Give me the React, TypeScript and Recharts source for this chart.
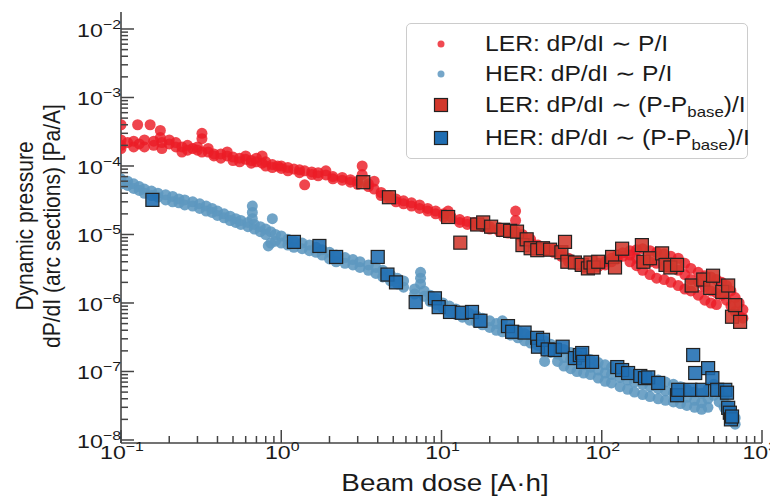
import { ScatterChart, Scatter, XAxis, YAxis, Legend, Customized } from "recharts";

// beam dose [A·h], dynamic pressure [Pa/A]
const LER_DOTS: [number, number][] = [
  [0.1, 2.0e-4], [0.1, 2.4e-4], [0.1, 4.0e-4], [0.1, 1.8e-4], [0.11, 2.2e-4],
  [0.12, 2.3e-4], [0.12, 1.9e-4], [0.127, 4.0e-4], [0.13, 2.1e-4], [0.14, 2.4e-4],
  [0.14, 1.9e-4], [0.152, 4.0e-4], [0.16, 2.3e-4], [0.16, 2.0e-4], [0.176, 3.3e-4],
  [0.176, 2.6e-4], [0.18, 2.2e-4], [0.18, 1.8e-4], [0.2, 2.1e-4], [0.2, 2.4e-4],
  [0.22, 1.9e-4], [0.22, 2.2e-4], [0.24, 1.9e-4], [0.24, 1.6e-4], [0.26, 2.0e-4],
  [0.26, 1.7e-4], [0.28, 1.8e-4], [0.3, 1.7e-4], [0.3, 1.9e-4], [0.32, 3.0e-4],
  [0.32, 2.5e-4], [0.32, 1.6e-4], [0.35, 1.6e-4], [0.35, 1.8e-4], [0.38, 1.5e-4],
  [0.38, 1.4e-4], [0.42, 1.5e-4], [0.42, 1.3e-4], [0.46, 1.4e-4], [0.46, 1.6e-4],
  [0.5, 1.35e-4], [0.5, 1.2e-4], [0.55, 1.3e-4], [0.55, 1.15e-4], [0.6, 1.25e-4],
  [0.6, 1.4e-4], [0.65, 1.2e-4], [0.65, 1.1e-4], [0.7, 1.15e-4], [0.7, 1.3e-4],
  [0.76, 1.4e-4], [0.76, 1.1e-4], [0.8, 1.15e-4], [0.8, 1.0e-4], [0.88, 1.05e-4],
  [0.88, 9.5e-5], [0.95, 1.0e-4], [1.0, 1.0e-4], [1.0, 9.2e-5], [1.1, 9.5e-5],
  [1.1, 8.5e-5], [1.2, 9.0e-5], [1.3, 8.8e-5], [1.3, 8.0e-5], [1.4, 5.3e-5],
  [1.4, 8.5e-5], [1.55, 8.2e-5], [1.55, 7.5e-5], [1.7, 8.0e-5], [1.7, 7.2e-5],
  [1.9, 7.4e-5], [1.9, 8.5e-5], [2.1, 7.0e-5], [2.1, 6.5e-5], [2.4, 6.8e-5],
  [2.4, 6.2e-5], [2.7, 6.3e-5], [2.7, 5.8e-5], [3.0, 6.0e-5], [3.0, 5.4e-5],
  [3.2, 1.0e-4], [3.2, 7.5e-5], [3.5, 5.5e-5], [3.5, 5.0e-5], [3.8, 4.6e-5],
  [3.8, 6.0e-5], [4.2, 4.1e-5], [4.2, 3.7e-5], [4.7, 3.7e-5], [4.7, 3.4e-5],
  [5.2, 3.3e-5], [5.2, 3.0e-5], [5.8, 3.1e-5], [5.8, 2.8e-5], [6.5, 2.9e-5],
  [6.5, 2.6e-5], [7.3, 2.7e-5], [7.3, 2.4e-5], [8.2, 2.4e-5], [8.2, 2.2e-5],
  [9.2, 2.2e-5], [9.2, 2.0e-5], [10.3, 2.0e-5], [10.3, 1.8e-5], [11.5, 1.8e-5],
  [11.0, 2.2e-5], [13, 1.65e-5], [13, 1.5e-5], [14.5, 1.55e-5], [14.5, 1.4e-5],
  [16, 1.5e-5], [16, 1.35e-5], [18, 1.4e-5], [18, 1.3e-5], [20, 1.3e-5],
  [20, 1.2e-5], [23, 1.25e-5], [23, 1.1e-5], [26, 1.15e-5], [26, 1.05e-5],
  [29, 2.2e-5], [29, 1.6e-5], [29, 1.1e-5], [32, 1.0e-5], [32, 9.0e-6],
  [36, 8.5e-6], [36, 7.5e-6], [40, 7.0e-6], [40, 6.3e-6], [45, 6.5e-6],
  [45, 5.8e-6], [50, 6.2e-6], [50, 5.5e-6], [56, 5.5e-6], [56, 4.8e-6],
  [62, 4.5e-6], [62, 4.0e-6], [70, 4.0e-6], [70, 3.6e-6], [78, 3.7e-6],
  [78, 3.3e-6], [86, 3.6e-6], [86, 3.2e-6], [95, 3.8e-6], [95, 3.4e-6],
  [105, 4.0e-6], [105, 3.6e-6], [115, 4.5e-6], [115, 4.0e-6], [125, 5.0e-6],
  [125, 4.4e-6], [135, 5.4e-6], [135, 4.8e-6], [150, 5.8e-6], [150, 5.0e-6],
  [150, 4.0e-6], [165, 6.0e-6], [165, 4.5e-6], [165, 3.5e-6], [180, 6.2e-6],
  [180, 4.2e-6], [180, 3.0e-6], [200, 5.8e-6], [200, 4.0e-6], [200, 2.6e-6],
  [220, 5.5e-6], [220, 3.8e-6], [220, 2.3e-6], [245, 5.2e-6], [245, 3.5e-6],
  [245, 2.2e-6], [270, 4.8e-6], [270, 3.3e-6], [270, 2.0e-6], [300, 4.5e-6],
  [300, 3.0e-6], [300, 1.8e-6], [330, 3.8e-6], [330, 2.6e-6], [330, 1.6e-6],
  [360, 3.2e-6], [360, 2.2e-6], [360, 1.5e-6], [400, 2.8e-6], [400, 2.0e-6],
  [400, 1.3e-6], [440, 2.5e-6], [440, 1.7e-6], [440, 1.1e-6], [480, 2.4e-6],
  [480, 1.5e-6], [480, 1.0e-6], [520, 2.2e-6], [520, 1.4e-6], [520, 9.5e-7],
  [560, 2.0e-6], [560, 1.3e-6], [600, 1.8e-6], [600, 1.1e-6], [640, 1.5e-6],
  [640, 9.0e-7], [680, 1.2e-6], [680, 7.5e-7], [720, 1.0e-6], [720, 6.5e-7],
  [760, 8.0e-7], [760, 6.0e-7],
];

const HER_DOTS: [number, number][] = [
  [0.1, 6.5e-5], [0.1, 5.5e-5], [0.11, 6.0e-5], [0.11, 5.2e-5], [0.12, 5.5e-5],
  [0.12, 4.7e-5], [0.13, 5.0e-5], [0.13, 4.4e-5], [0.14, 4.6e-5], [0.14, 4.0e-5],
  [0.155, 4.3e-5], [0.155, 3.7e-5], [0.17, 4.0e-5], [0.17, 3.5e-5], [0.19, 3.8e-5],
  [0.19, 3.2e-5], [0.21, 3.6e-5], [0.21, 3.0e-5], [0.23, 3.3e-5], [0.23, 2.9e-5],
  [0.25, 3.2e-5], [0.25, 2.7e-5], [0.28, 3.0e-5], [0.28, 2.6e-5], [0.31, 2.8e-5],
  [0.31, 2.4e-5], [0.34, 2.6e-5], [0.34, 2.2e-5], [0.37, 2.4e-5], [0.37, 2.1e-5],
  [0.4, 2.2e-5], [0.4, 1.9e-5], [0.44, 2.0e-5], [0.44, 1.75e-5], [0.48, 1.85e-5],
  [0.48, 1.6e-5], [0.52, 1.7e-5], [0.52, 1.5e-5], [0.56, 1.6e-5], [0.56, 1.4e-5],
  [0.62, 1.5e-5], [0.62, 1.3e-5], [0.66, 2.6e-5], [0.66, 2.1e-5], [0.66, 1.7e-5],
  [0.68, 1.4e-5], [0.68, 1.2e-5], [0.74, 1.3e-5], [0.74, 1.1e-5], [0.8, 1.2e-5],
  [0.8, 1.0e-5], [0.83, 6.8e-6], [0.86, 1.1e-5], [0.86, 7.5e-6], [0.88, 1.7e-5],
  [0.92, 1.0e-5], [0.92, 8.0e-6], [1.0, 9.5e-6], [1.0, 7.5e-6], [1.1, 8.5e-6],
  [1.1, 7.0e-6], [1.2, 8.0e-6], [1.2, 6.5e-6], [1.35, 7.5e-6], [1.35, 6.2e-6],
  [1.5, 7.0e-6], [1.5, 5.8e-6], [1.65, 6.5e-6], [1.65, 5.5e-6], [1.8, 6.0e-6],
  [1.8, 5.0e-6], [2.0, 5.5e-6], [2.0, 4.4e-6], [2.2, 5.0e-6], [2.2, 4.0e-6],
  [2.5, 4.6e-6], [2.5, 3.8e-6], [2.8, 4.3e-6], [2.8, 3.6e-6], [3.1, 4.0e-6],
  [3.1, 3.3e-6], [3.5, 3.6e-6], [3.5, 3.0e-6], [3.9, 3.3e-6], [3.9, 2.7e-6],
  [4.3, 3.0e-6], [4.3, 2.4e-6], [4.8, 2.6e-6], [4.8, 2.1e-6], [5.3, 2.3e-6],
  [5.3, 1.9e-6], [5.8, 2.1e-6], [5.8, 1.7e-6], [6.8, 1.6e-6], [6.8, 1.35e-6],
  [7.4, 2.8e-6], [7.4, 2.3e-6], [7.4, 1.9e-6], [7.8, 1.5e-6], [7.8, 1.25e-6],
  [8.5, 1.3e-6], [8.5, 1.05e-6], [9.3, 1.15e-6], [9.3, 9.5e-7], [10.2, 1.0e-6],
  [10.2, 8.5e-7], [11.2, 9.0e-7], [11.2, 7.5e-7], [12.3, 8.2e-7], [12.3, 6.8e-7],
  [13.5, 7.5e-7], [13.5, 6.2e-7], [15, 7.0e-7], [15, 5.6e-7], [16.5, 6.5e-7],
  [16.5, 5.2e-7], [18, 6.0e-7], [18, 4.8e-7], [20, 5.5e-7], [20, 4.4e-7],
  [22, 5.0e-7], [22, 4.0e-7], [24, 5.5e-7], [24, 4.6e-7], [24, 3.8e-7],
  [27, 4.2e-7], [27, 3.4e-7], [30, 3.9e-7], [30, 3.1e-7], [33, 3.6e-7],
  [33, 2.8e-7], [36, 3.3e-7], [36, 2.6e-7], [40, 3.0e-7], [40, 2.4e-7],
  [44, 2.8e-7], [44, 2.0e-7], [44, 1.4e-7], [48, 2.5e-7], [48, 1.9e-7],
  [53, 2.3e-7], [53, 1.8e-7], [53, 1.4e-7], [58, 2.1e-7], [58, 1.6e-7],
  [58, 1.2e-7], [64, 1.9e-7], [64, 1.5e-7], [64, 1.1e-7], [70, 1.75e-7],
  [70, 1.4e-7], [70, 1.0e-7], [77, 1.6e-7], [77, 1.25e-7], [77, 9.5e-8],
  [85, 1.5e-7], [85, 1.15e-7], [85, 9.0e-8], [95, 1.35e-7], [95, 1.05e-7],
  [95, 8.0e-8], [105, 1.25e-7], [105, 9.5e-8], [105, 7.2e-8], [115, 1.15e-7],
  [115, 9.0e-8], [115, 6.8e-8], [130, 1.05e-7], [130, 8.2e-8], [130, 6.0e-8],
  [145, 9.5e-8], [145, 7.5e-8], [145, 5.5e-8], [160, 9.0e-8], [160, 7.0e-8],
  [160, 5.0e-8], [180, 8.5e-8], [180, 6.5e-8], [180, 4.6e-8], [200, 8.0e-8],
  [200, 6.0e-8], [200, 4.3e-8], [225, 7.5e-8], [225, 5.6e-8], [225, 4.0e-8],
  [250, 7.0e-8], [250, 5.2e-8], [250, 3.8e-8], [280, 6.5e-8], [280, 4.8e-8],
  [280, 3.6e-8], [310, 6.0e-8], [310, 4.5e-8], [310, 3.4e-8], [340, 5.5e-8],
  [340, 4.2e-8], [340, 3.2e-8], [380, 5.0e-8], [380, 3.8e-8], [380, 3.0e-8],
  [420, 4.8e-8], [420, 3.5e-8], [420, 2.8e-8], [460, 5.5e-8], [460, 4.0e-8],
  [460, 3.0e-8], [500, 6.5e-8], [500, 4.5e-8], [540, 5.0e-8], [540, 3.6e-8],
  [580, 4.2e-8], [580, 3.0e-8], [620, 3.2e-8], [620, 2.4e-8], [650, 2.5e-8],
  [650, 1.9e-8], [680, 2.1e-8], [680, 1.7e-8],
];

const LER_SQUARES: [number, number][] = [
  [3.25, 5.8e-5], [4.7, 3.5e-5], [11.0, 1.8e-5], [13.1, 7.6e-6], [16.7, 1.4e-5],
  [18.2, 1.5e-5], [20.4, 1.3e-5], [24.3, 1.17e-5], [26.8, 1.13e-5], [29.6, 1.1e-5],
  [32, 7.0e-6], [34, 8.5e-6], [36, 6.3e-6], [39.6, 5.9e-6], [43, 6.3e-6],
  [47.6, 6.0e-6], [56, 5.5e-6], [59, 7.8e-6], [61, 4.0e-6], [68, 3.9e-6],
  [75, 3.6e-6], [82, 3.2e-6], [85, 3.9e-6], [89, 3.3e-6], [95, 4.0e-6],
  [116, 4.7e-6], [121, 3.3e-6], [134, 6.2e-6], [178, 7.0e-6], [182, 4.0e-6],
  [200, 4.5e-6], [238, 5.3e-6], [250, 3.6e-6], [268, 3.3e-6], [295, 3.6e-6],
  [364, 1.8e-6], [430, 2.2e-6], [475, 1.66e-6], [495, 2.5e-6], [565, 1.45e-6],
  [615, 1.8e-6], [650, 6.3e-7], [680, 9.3e-7], [730, 5.3e-7],
];

const HER_SQUARES: [number, number][] = [
  [0.157, 3.2e-5], [1.2, 7.8e-6], [1.73, 6.8e-6], [2.2, 4.7e-6], [4.0, 4.7e-6],
  [4.6, 2.6e-6], [5.2, 2.0e-6], [6.9, 1.03e-6], [9.1, 1.17e-6], [9.6, 8.7e-7],
  [11.3, 7.4e-7], [13.4, 7.2e-7], [15.5, 7.4e-7], [17.5, 5.5e-7], [26, 4.6e-7],
  [27.6, 3.8e-7], [33, 3.7e-7], [39.5, 3.1e-7], [40, 2.3e-7], [43, 2.9e-7],
  [46, 2.1e-7], [51, 2.06e-7], [57, 2.3e-7], [68, 1.57e-7], [73, 1.74e-7],
  [75.5, 1.86e-7], [76.5, 1.38e-7], [87, 1.38e-7], [125, 1.16e-7], [134, 1.05e-7],
  [146, 9.5e-8], [174, 8.6e-8], [186, 8.0e-8], [195, 8.2e-8], [225, 6.8e-8],
  [295, 4.5e-8], [300, 5.4e-8], [357, 5.4e-8], [372, 1.74e-7], [383, 9.5e-8],
  [423, 5.4e-8], [461, 1.12e-7], [490, 8.0e-8], [525, 5.4e-8], [590, 5.4e-8],
  [605, 4.9e-8], [615, 2.95e-8], [630, 2.5e-8], [640, 2.0e-8], [650, 2.2e-8],
];

const X_DECADES = [0.1, 1, 10, 100, 1000];
const Y_DECADES = [1e-8, 1e-7, 1e-6, 1e-5, 1e-4, 1e-3, 1e-2];
const MINOR_STEPS = [2, 3, 4, 5, 6, 7, 8, 9];

const X_DOMAIN = [0.1, 1000];
const Y_DOMAIN = [Math.pow(10, -8.044), Math.pow(10, -1.752)];

const LEGEND_LABELS = [
  "LER: dP/dI \u223C P/I",
  "HER: dP/dI \u223C P/I",
  "LER: dP/dI \u223C (P-P",
  "HER: dP/dI \u223C (P-P",
];

const FONT = "'Liberation Sans', Arial, Helvetica, sans-serif";
const AXIS = "#444";
const RED_DOT = "#ec1c26";
const BLUE_DOT = "#5d97bf";
const RED_SQ = "#d2382c";
const BLUE_SQ = "#1f6db2";
const STRETCH = 1.16;

const withMinor = (decades: number[], lo: number, hi: number) =>
  [...decades, ...decades.flatMap((d) => MINOR_STEPS.map((m) => d * m))].filter(
    (v) => v >= lo * 0.999 && v <= hi * 1.001
  );

const xTicks = withMinor(X_DECADES, X_DOMAIN[0], X_DOMAIN[1]);
const yTicks = withMinor([1e-9, ...Y_DECADES], Y_DOMAIN[0], Y_DOMAIN[1]);

const toPoints = (arr: [number, number][]) => arr.map(([x, y]) => ({ x, y }));

function PowerLabel({ x, y, exp, anchor }: { x: number; y: number; exp: number; anchor: string }) {
  const sup = exp < 0 ? "\u2212" + Math.abs(exp) : String(exp);
  return (
    <g transform={`translate(${x},${y}) scale(1.22,1)`}>
      <text textAnchor={anchor as any} fontSize={19} fontFamily={FONT} fill="#1a1a1a">
        10
        <tspan dy={-8} fontSize={13}>
          {sup}
        </tspan>
      </text>
    </g>
  );
}

const makeTick = (side: "left" | "right" | "top" | "bottom") => (props: any) => {
  const { x, y, payload } = props;
  const v = payload.value;
  const lg = Math.log10(v);
  const exp = Math.round(lg);
  const major = Math.abs(lg - exp) < 1e-6;
  const len = major ? 13 : 7;
  let line;
  if (side === "left") line = <line x1={x} y1={y} x2={x + len} y2={y} />;
  else if (side === "right") line = <line x1={x} y1={y} x2={x - len} y2={y} />;
  else if (side === "top") line = <line x1={x} y1={y} x2={x} y2={y + len} />;
  else line = <line x1={x} y1={y} x2={x} y2={y - len} />;
  // the last label would run past the right edge, so it is pinned to it
  const lastX = exp === 3;
  return (
    <g>
      <g stroke={AXIS} strokeWidth={1.5}>{line}</g>
      {major && side === "left" && <PowerLabel x={x} y={y + 8} exp={exp} anchor="end" />}
      {major && side === "bottom" && (
        <PowerLabel x={lastX ? 769 : x + 1} y={y + 16} exp={exp} anchor={lastX ? "end" : "middle"} />
      )}
    </g>
  );
};

const dotShape = (fill: string, opacity: number) => (p: any) => (
  <circle cx={p.cx} cy={p.cy} r={5.5} fill={fill} fillOpacity={opacity} />
);

const squareShape = (fill: string) => (p: any) => (
  <rect
    x={p.cx - 6.5}
    y={p.cy - 6.5}
    width={13}
    height={13}
    fill={fill}
    fillOpacity={0.88}
    stroke="#222"
    strokeWidth={1.2}
  />
);

function Titles() {
  return (
    <g fontFamily={FONT} fill="#1a1a1a">
      <g transform={`translate(437,483) scale(${STRETCH},1)`}>
        <text textAnchor="middle" fontSize={24}>Beam dose [A·h]</text>
      </g>
      <g transform={`translate(25,218) scale(${STRETCH},1) rotate(-90)`}>
        <text textAnchor="middle" fontSize={21}>Dynamic pressure</text>
      </g>
      <g transform={`translate(52,218) scale(${STRETCH},1) rotate(-90)`}>
        <text textAnchor="middle" fontSize={21}>dP/dI (arc sections) [Pa/A]</text>
      </g>
    </g>
  );
}

function LegendBox() {
  const rows = [20, 50, 81, 114];
  return (
    <div
      style={{
        position: "relative",
        width: 342,
        height: 136,
        boxSizing: "border-box",
        border: "1.5px solid #cccccc",
        borderRadius: 5,
        background: "rgba(255,255,255,0.85)",
        fontFamily: FONT,
        color: "#1a1a1a",
      }}
    >
      {LEGEND_LABELS.map((label, i) => (
        <div key={label} style={{ position: "absolute", left: 0, top: rows[i] - 15, height: 30, width: 340 }}>
          <svg width={60} height={30} style={{ position: "absolute", left: 0, top: 0 }}>
            {i === 0 && <circle cx={34} cy={15} r={3.5} fill={RED_DOT} fillOpacity={0.8} />}
            {i === 1 && <circle cx={34} cy={15} r={3.5} fill={BLUE_DOT} fillOpacity={0.85} />}
            {i === 2 && <rect x={27.5} y={8.5} width={13} height={13} fill={RED_SQ} stroke="#222" strokeWidth={1.2} />}
            {i === 3 && <rect x={27.5} y={8.5} width={13} height={13} fill={BLUE_SQ} stroke="#222" strokeWidth={1.2} />}
          </svg>
          <span
            style={{
              position: "absolute",
              left: 78,
              top: 2,
              fontSize: 22,
              lineHeight: "26px",
              whiteSpace: "nowrap",
              transform: "scaleX(1.12)",
              transformOrigin: "left center",
            }}
          >
            {label}
            {i >= 2 && (
              <>
                <span style={{ fontSize: 15, position: "relative", top: 5 }}>base</span>)/I
              </>
            )}
          </span>
        </div>
      ))}
    </div>
  );
}

export default function App() {
  return (
    <ScatterChart width={770} height={493} margin={{ top: 4, right: 16, bottom: 0, left: 0 }}>
      <XAxis
        dataKey="x"
        type="number"
        scale="log"
        domain={X_DOMAIN}
        allowDataOverflow
        ticks={xTicks}
        interval={0}
        height={58}
        tickSize={0}
        tickMargin={0}
        tickLine={false}
        tick={makeTick("bottom")}
        axisLine={{ stroke: AXIS, strokeWidth: 1.6 }}
      />
      <XAxis
        xAxisId="top"
        orientation="top"
        dataKey="x"
        type="number"
        scale="log"
        domain={X_DOMAIN}
        allowDataOverflow
        ticks={xTicks}
        interval={0}
        height={0}
        tickSize={0}
        tickMargin={0}
        tickLine={false}
        tick={makeTick("top")}
        axisLine={{ stroke: AXIS, strokeWidth: 1.6 }}
      />
      <YAxis
        dataKey="y"
        type="number"
        scale="log"
        domain={Y_DOMAIN}
        allowDataOverflow
        ticks={yTicks}
        interval={0}
        width={113}
        tickSize={0}
        tickMargin={0}
        tickLine={false}
        tick={makeTick("left")}
        axisLine={{ stroke: AXIS, strokeWidth: 1.6 }}
      />
      <YAxis
        yAxisId="right"
        orientation="right"
        dataKey="y"
        type="number"
        scale="log"
        domain={Y_DOMAIN}
        allowDataOverflow
        ticks={yTicks}
        interval={0}
        width={0}
        tickSize={0}
        tickMargin={0}
        tickLine={false}
        tick={makeTick("right")}
        axisLine={{ stroke: AXIS, strokeWidth: 1.6 }}
      />
      <Scatter data={toPoints(LER_DOTS)} shape={dotShape(RED_DOT, 0.82)} isAnimationActive={false} />
      <Scatter data={toPoints(HER_DOTS)} shape={dotShape(BLUE_DOT, 0.88)} isAnimationActive={false} />
      <Scatter data={toPoints(LER_SQUARES)} shape={squareShape(RED_SQ)} isAnimationActive={false} />
      <Scatter data={toPoints(HER_SQUARES)} shape={squareShape(BLUE_SQ)} isAnimationActive={false} />
      <Scatter
        data={toPoints(HER_SQUARES)}
        xAxisId="top"
        yAxisId="right"
        shape={() => <g />}
        legendType="none"
        isAnimationActive={false}
      />
      <Legend
        layout="vertical"
        align="center"
        verticalAlign="middle"
        content={() => <LegendBox />}
        wrapperStyle={{ left: 398, top: 15, width: 342, height: 136 }}
      />
      <Customized component={Titles} />
    </ScatterChart>
  );
}
